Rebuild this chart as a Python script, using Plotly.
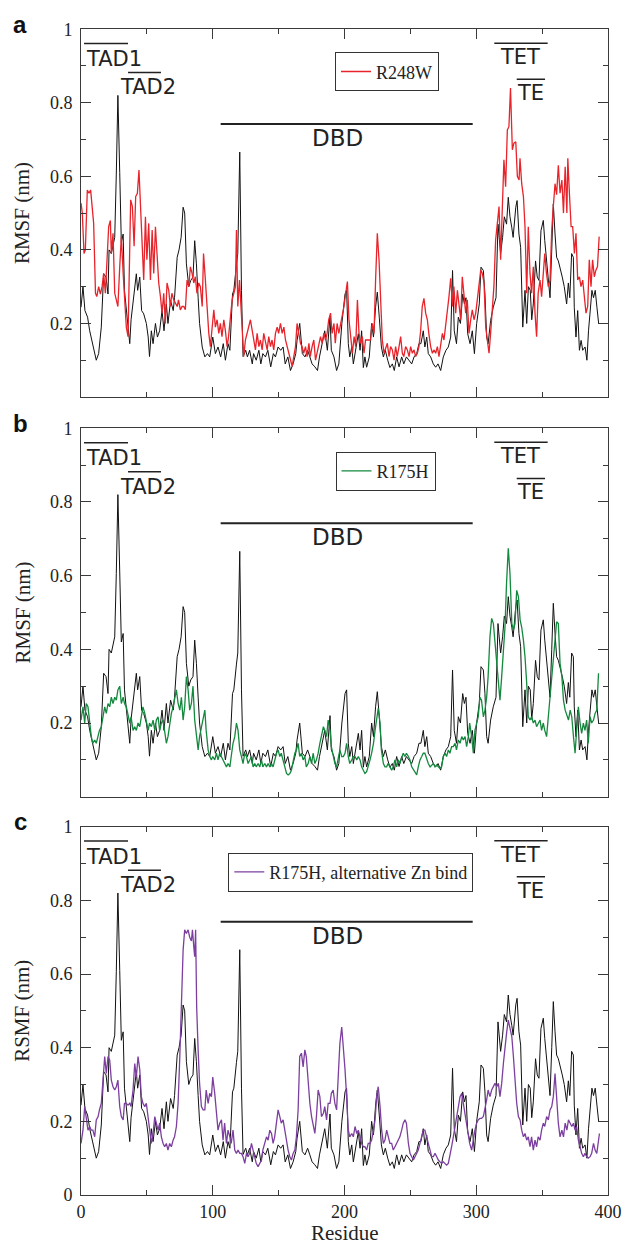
import plotly.graph_objects as go

# ---------------- data ----------------
wt_res = [0,1.5,3,5,6.6,9,11.6,13.4,15.4,17.2,19,20.5,21.3,23,24.3,25.6,26.8,28,29.4,30.6,32,33,35,37,38,40,42,43,44.6,46,47.6,49.6,51,52,53.4,54.7,56.5,58,59.7,61.5,63,64.8,66,68,70,71,73,74.4,76,77.5,78.7,80,81.8,83.3,85,86.3,87.6,88.9,90,92,94,96,97.7,100,102,104,106,108,109.6,111.6,113,115,116,118,119,120.5,121.8,123,125,126.3,128,130,131,133,135,136.5,138,140,141.8,144,146,147.6,149.6,151.6,153.4,155,157,159,161,163,164,166,168,170,172,173.7,175.4,177.5,179.5,181,183,185,187,189,190,192,194,195.7,
          198,199.1,200.4,201.6,202.9,204,205.5,206.7,208,209.3,210.5,211.8,213,214.3,215.5,216.8,218.8,220.6,222,223.6,224.9,226.4,228,229.5,231,232.8,234.5,236.3,237.8,239.6,241.4,243.4,245,247,249,251,252.8,254.8,256.5,258,259.8,261,262.4,263.6,265.4,267.4,269.2,271,273,275,277,278.8,280.6,282,283.3,285,286.4,288,289.7,291,292.2,293.5,295.3,297,298.6,300.3,302.3,303.6,305.4,306.6,307.9,309,310.9,312.9,315,316.5,318.5,320,321.3,323,324.3,325.6,327,328,330,331,332.4,333.7,335.3,337,338.3,339.6,341,342.1,343.3,345,346.3,347.6,349.1,350.9,352,353.4,354.7,356,357.3,358.5,359.8,361,362.3,363.6,365.3,366.8,368.6,369.9,371,372.4,373.7,374.4,375.7,377,378.3,379.6,380.8,382.6,384,385.2,386.5,387.8,389,390.3,391.6,392.9]
wt_rmsf = [0.244,0.30,0.235,0.217,0.18,0.145,0.10,0.118,0.19,0.335,0.326,0.28,0.40,0.39,0.416,0.434,0.606,0.82,0.61,0.42,0.443,0.29,0.217,0.145,0.21,0.27,0.335,0.29,0.326,0.235,0.226,0.20,0.163,0.11,0.18,0.145,0.20,0.163,0.18,0.235,0.18,0.253,0.20,0.262,0.235,0.27,0.38,0.40,0.434,0.516,0.50,0.362,0.30,0.317,0.326,0.425,0.362,0.27,0.20,0.136,0.109,0.118,0.109,0.163,0.118,0.136,0.109,0.145,0.10,0.145,0.127,0.28,0.29,0.36,0.39,0.666,0.29,0.11,0.127,0.109,0.127,0.09,0.118,0.10,0.127,0.09,0.118,0.109,0.127,0.082,0.118,0.109,0.136,0.127,0.136,0.09,0.109,0.072,0.09,0.118,0.154,0.20,0.118,0.109,0.127,0.109,0.09,0.082,0.072,0.109,0.145,0.18,0.127,0.22,0.127,0.109,0.072,0.09,
           0.20,0.235,0.28,0.29,0.145,0.109,0.136,0.09,0.118,0.145,0.172,0.127,0.18,0.08,0.109,0.081,0.109,0.20,0.163,0.244,0.285,0.217,0.136,0.109,0.127,0.10,0.08,0.09,0.072,0.109,0.082,0.109,0.09,0.109,0.10,0.09,0.109,0.118,0.145,0.145,0.18,0.136,0.163,0.118,0.109,0.09,0.081,0.09,0.072,0.109,0.127,0.136,0.163,0.344,0.18,0.145,0.217,0.20,0.28,0.253,0.27,0.172,0.145,0.18,0.118,0.20,0.253,0.353,0.344,0.28,0.163,0.145,0.208,0.244,0.27,0.47,0.39,0.434,0.49,0.47,0.543,0.49,0.46,0.434,0.516,0.534,0.443,0.407,0.19,0.29,0.20,0.30,0.29,0.21,0.253,0.37,0.326,0.317,0.452,0.48,0.425,0.362,0.326,0.27,0.40,0.525,0.443,0.38,0.37,0.353,0.326,0.30,0.253,0.31,0.27,0.39,0.38,0.244,0.163,0.235,0.127,0.154,0.127,0.136,0.10,0.18,0.235,0.29,0.27,0.29,0.244,0.20]

r248w_res = [0,1,2.3,3.3,4.8,6,7.3,8.6,9.6,11,12,13.4,14.7,16,17.2,18.5,19.7,21,22.3,23,24.3,25.6,26.8,28,29.4,30.6,32,33,34.4,35.7,37,37.7,39,40.3,41.5,42.8,44,45.3,46.3,47.6,48.9,50,51.4,52.7,54,55.2,56.5,57.7,59,60.3,61.5,62.8,64,65.3,66.6,67.8,69,70.4,71.6,73,74,75.4,76.7,78,79.2,80.5,81.8,83,84.3,85.6,86.8,88,89.4,90.6,92,93,94.4,95.7,97,98.2,99.5,100.8,102,103.3,104.6,105.8,107,108.4,109.6,110.9,112,113.4,114.7,116,117.2,118,119,120.3,121.3,122.3,123.5,124.8,126,127.3,128.6,130,131,132.4,133.7,135,136.2,137.5,138.7,140,141.3,142.5,143.8,145,146.3,147.6,148.9,150,151.4,152.7,154,155.2,156.5,157.7,159,160.3,161.5,162.8,164,165.3,166.6,167.8,169,170.4,171.6,173,174,175.4,176.7,178,179.2,180.5,181.8,183,184.3,185.6,186.8,188,189.4,190.6,192,193,194.4,195.7,
             197.9,199.6,200.9,202.2,203.4,204.7,206,207.3,208.5,209.8,211,212.3,213.5,214.8,216,217.3,218.6,219.8,221,222.4,223.6,224.9,226.2,227.5,228.7,230,231.3,232.5,233.8,235,236.3,237.6,238.8,240,241.4,242.6,243.9,245,246.4,247.7,249,250.2,251.5,252.8,254,255.3,256.5,257.8,259,260.3,261.6,262.9,264,265.4,266.7,268,269.2,270.5,271.7,273,274.3,275.5,276.8,278,279.3,280.6,282,283,284.4,285.7,287,288.2,289.4,290.7,292,293.2,294.5,295.8,297,298.3,299.6,300.8,302,303.4,304.6,305.9,307.2,308.4,309.7,310.9,312,313.4,314.7,316,317.3,318.5,319.8,321,322.3,323.6,324.8,326,327.4,328.6,330,331.2,332.5,333.2,334.5,335.8,337,338.3,339.5,340.8,342,343.3,344.6,345.8,347,348.4,349.6,350.9,352,353.3,354.7,356,357.3,358.5,359.8,361,362.3,363.6,365,366.2,367.5,368.8,369.5,370.7,372,373.2,374.5,375.7,377,378.3,379.5,380.8,382,383.3,384.6,385.8,387.1,388.3,389.6,390.8,392,393.3]
r248w_rmsf = [0.527,0.50,0.39,0.40,0.563,0.554,0.563,0.518,0.472,0.282,0.273,0.30,0.28,0.30,0.336,0.282,0.354,0.463,0.48,0.39,0.445,0.282,0.264,0.246,0.354,0.436,0.336,0.273,0.19,0.164,0.39,0.536,0.518,0.41,0.545,0.554,0.617,0.50,0.40,0.318,0.49,0.373,0.472,0.318,0.454,0.336,0.463,0.373,0.31,0.273,0.228,0.282,0.20,0.31,0.29,0.246,0.282,0.264,0.255,0.246,0.264,0.237,0.246,0.246,0.237,0.318,0.30,0.354,0.336,0.31,0.327,0.282,0.31,0.30,0.246,0.39,0.318,0.228,0.173,0.137,0.19,0.237,0.19,0.21,0.173,0.20,0.164,0.21,0.18,0.137,0.164,0.21,0.264,0.282,0.30,0.454,0.246,0.318,0.246,0.164,0.11,0.155,0.173,0.19,0.21,0.18,0.155,0.128,0.173,0.137,0.155,0.128,0.173,0.146,0.128,0.164,0.137,0.155,0.128,0.173,0.19,0.173,0.20,0.173,0.19,0.155,0.137,0.119,0.10,0.083,0.11,0.137,0.20,0.173,0.146,0.137,0.119,0.137,0.11,0.146,0.11,0.137,0.155,0.10,0.119,0.146,0.164,0.146,0.173,0.155,0.173,0.21,0.228,0.173,0.20,0.146,0.20,0.173,
              0.21,0.246,0.282,0.314,0.21,0.155,0.119,0.164,0.137,0.264,0.173,0.146,0.164,0.119,0.155,0.155,0.155,0.155,0.20,0.173,0.318,0.445,0.373,0.246,0.155,0.119,0.137,0.146,0.11,0.137,0.128,0.10,0.137,0.11,0.137,0.164,0.119,0.11,0.137,0.128,0.11,0.137,0.119,0.128,0.11,0.119,0.137,0.18,0.246,0.268,0.228,0.21,0.173,0.137,0.119,0.128,0.119,0.137,0.11,0.146,0.173,0.155,0.19,0.228,0.273,0.323,0.246,0.30,0.228,0.29,0.246,0.21,0.327,0.282,0.228,0.264,0.173,0.21,0.237,0.21,0.228,0.264,0.30,0.345,0.336,0.31,0.19,0.146,0.119,0.173,0.228,0.30,0.427,0.48,0.518,0.373,0.50,0.645,0.572,0.726,0.735,0.84,0.672,0.69,0.694,0.60,0.59,0.649,0.58,0.545,0.463,0.282,0.463,0.336,0.282,0.354,0.228,0.164,0.282,0.318,0.273,0.354,0.39,0.336,0.30,0.318,0.454,0.518,0.58,0.55,0.63,0.554,0.59,0.50,0.626,0.50,0.649,0.554,0.463,0.463,0.39,0.445,0.318,0.327,0.30,0.318,0.273,0.228,0.246,0.373,0.30,0.373,0.327,0.345,0.354,0.436]

r175h_res = [0,1.5,2.8,4,5.3,6.6,7.8,9,10.4,11.6,13,14,15.4,16.7,18,19.2,20.5,21.8,23,24.3,25.6,26.8,28,29.4,30.6,32,33,34.4,35.7,37,38,39.5,40.8,42,43.3,44.6,45.8,47,48.4,49.6,51,52,53.4,54.7,56,57.2,58.5,59.7,61,62.3,63.5,64.8,66,67.3,68.6,69.9,71,72.4,73.7,75,76.2,77.5,78.7,80,81.3,82.5,83.8,85,86.3,87.6,88.9,90,91.4,92.7,94,95,96.5,97.7,99,100,101.5,102.8,104,105.3,106.6,107.8,109,110.4,111.6,113,114,115.4,116.7,118,119.2,120.5,121.8,123,124.3,125.6,126.8,128,129.4,130.6,131.9,133,134.4,135.7,137,138,139.5,140.8,142,143.3,144.6,145.8,147,148.4,149.6,150.9,152,153.4,154.7,156,157.2,158.5,159.7,161,162.3,163.5,164.8,166,167.3,168.6,169.9,171,172.4,173.7,175,176.2,177.5,178.7,180,181.3,182.5,184,185,186.4,187.6,189,190,191.4,192.7,194,195.2,196.5,
             197.9,199.1,200.4,201.6,202.9,204,205.5,206.7,208,209.3,210.5,211.8,213,214.3,215.5,216.8,218,219.4,220.6,222,223.2,224.4,225.6,227,228,229.5,230.7,232,233,234.5,235.8,237,238.3,239.6,240.8,242,243.4,244.6,245.9,247,248.5,249.7,251,252.3,253.5,254.8,256,257.3,258.6,259.8,261,262.4,263.6,265,266.2,267.4,268.7,270,271.2,272.5,273.7,275,276.3,277.5,278.8,280,281.3,282.6,283.9,285,286.4,287.7,289,290.2,291.5,292.7,294,295,296.5,297.8,299,300.3,301.5,302.8,304,305.4,306.6,307.9,309,310.4,311.7,313,314.2,315.5,316.8,318,319.3,320.6,321.8,323,324.3,325.6,327,328.2,329.4,330.7,332,333.3,334.5,335.8,337,338.3,339.5,340.8,342,343.3,344.6,345.8,347,348.4,349.6,350.9,352,353.4,354.7,356,357.3,358.5,359.8,361,362.3,363.6,365,366.2,367.5,368.8,370,371.3,372.5,373.8,375,376.2,377.5,378.8,380,381.3,382.5,383.8,385,386.4,387.6,389,390.2,391.5,392.8]
r175h_rmsf = [0.208,0.244,0.20,0.253,0.244,0.19,0.163,0.145,0.154,0.145,0.163,0.18,0.19,0.217,0.244,0.226,0.253,0.244,0.27,0.253,0.27,0.262,0.29,0.30,0.253,0.27,0.253,0.244,0.217,0.20,0.217,0.18,0.19,0.18,0.20,0.19,0.217,0.244,0.226,0.208,0.18,0.20,0.19,0.208,0.18,0.208,0.217,0.18,0.20,0.208,0.172,0.145,0.163,0.20,0.226,0.244,0.27,0.29,0.253,0.235,0.27,0.208,0.244,0.326,0.29,0.235,0.253,0.30,0.208,0.163,0.127,0.163,0.19,0.217,0.235,0.18,0.127,0.109,0.10,0.109,0.10,0.118,0.10,0.118,0.109,0.10,0.09,0.081,0.09,0.081,0.109,0.145,0.163,0.20,0.18,0.127,0.109,0.09,0.118,0.109,0.09,0.10,0.109,0.081,0.09,0.081,0.09,0.081,0.10,0.081,0.09,0.081,0.09,0.081,0.09,0.081,0.10,0.118,0.127,0.109,0.118,0.10,0.081,0.063,0.059,0.063,0.072,0.10,0.118,0.127,0.145,0.109,0.118,0.10,0.109,0.081,0.09,0.109,0.09,0.118,0.09,0.10,0.118,0.145,0.163,0.19,0.18,0.163,0.208,0.18,0.136,0.109,0.09,0.081,0.109,0.127,
              0.109,0.109,0.118,0.145,0.109,0.09,0.10,0.109,0.109,0.10,0.109,0.10,0.081,0.072,0.063,0.068,0.081,0.10,0.118,0.145,0.18,0.217,0.24,0.20,0.127,0.09,0.081,0.081,0.09,0.081,0.072,0.081,0.10,0.081,0.10,0.09,0.109,0.118,0.109,0.118,0.109,0.10,0.081,0.072,0.068,0.059,0.081,0.10,0.109,0.118,0.118,0.10,0.09,0.081,0.086,0.09,0.081,0.086,0.081,0.077,0.081,0.109,0.118,0.109,0.127,0.118,0.136,0.136,0.145,0.127,0.154,0.145,0.163,0.154,0.163,0.136,0.163,0.20,0.163,0.118,0.18,0.20,0.217,0.27,0.262,0.217,0.235,0.27,0.326,0.434,0.484,0.47,0.425,0.362,0.326,0.262,0.326,0.40,0.46,0.58,0.674,0.606,0.47,0.452,0.47,0.56,0.543,0.48,0.46,0.425,0.38,0.308,0.217,0.208,0.217,0.20,0.208,0.19,0.20,0.208,0.18,0.20,0.18,0.163,0.217,0.27,0.317,0.362,0.416,0.475,0.47,0.362,0.326,0.262,0.235,0.217,0.208,0.235,0.217,0.163,0.118,0.18,0.244,0.20,0.172,0.20,0.18,0.208,0.145,0.217,0.20,0.208,0.226,0.235,0.335]

zn_res = [0,1.5,2.8,4,5.3,6.6,7.8,9,10.4,11.6,13,14,15.4,16.7,18,19.2,20.5,21.8,23,24.3,25.6,26.8,28,29.4,30.6,32,33,34.4,35.7,37,38,39.5,40.8,42,43.3,44.6,45.8,47,48.4,49.6,51,52,53.4,54.7,56,57.2,58.5,59.7,61,62.3,63.5,64.8,66,67.3,68.6,69.9,71,72.4,73.7,75,76.2,77.5,78.7,80,81.3,82.5,83.8,84.6,85.6,86.3,87,87.8,88.9,90,91.4,92.7,94,95,96.5,97.7,99,100,101.5,102.8,104,105.3,106.6,107.8,109,110.4,111.6,113,114,115.4,116.7,118,119.2,120.5,121.8,123,124.3,125.6,126.8,128,129.4,130.6,131.9,133,134.4,135.7,137,138,139.5,140.8,142,143.3,144.6,145.8,147,148.4,149.6,150.9,152,153.4,154.7,156,157.2,158.5,159.7,161,162.3,163.5,164.8,166,167.3,168.6,169.9,171,172.4,173.7,175,176.2,177.5,178.7,180,181.3,182.5,184,185,186.4,187.6,189,190,191.4,192.7,194,195.2,196.5,
          197.9,199.1,200.4,201.6,202.9,204,205.5,206.7,208,209.3,210.5,211.8,213,214.3,215.5,216.8,218,219.4,220.6,222,223.2,224.4,225.6,227,228.2,229.5,230.7,232,233.2,234.5,235.8,237,238.3,239.6,240.8,242,243.4,244.6,245.9,247,248.5,249.7,251,252.3,253.5,254.8,256,257.3,258.6,259.8,261,262.4,263.6,265,266.2,267.4,268.7,270,271.2,272.5,273.7,275,276.3,277.5,278.8,280,281.3,282.6,283.9,285,286.4,287.7,289,290.2,291.5,292.7,294,295,296.5,297.8,299,300.3,301.5,302.8,304,305.4,306.6,307.9,309,310.4,311.7,313,314.2,315.5,316.8,318,319.3,320.6,321.8,323,324.3,325.6,327,328.2,329.4,330.7,332,333.3,334.5,335.8,337,338.3,339.5,340.8,342,343.3,344.6,345.8,347,348.4,349.6,350.9,352,353.4,354.7,356,357.3,358.5,359.8,361,362.3,363.6,365,366.2,367.5,368.8,370,371.3,372.5,373.8,375,376.2,377.5,378.8,380,381.3,382.5,383.8,385,386.4,387.6,389,390.2,391.5,392.8,393.5]
zn_rmsf = [0.14,0.176,0.24,0.213,0.176,0.186,0.176,0.176,0.158,0.204,0.213,0.231,0.249,0.312,0.376,0.33,0.376,0.366,0.312,0.294,0.285,0.294,0.312,0.24,0.213,0.204,0.249,0.249,0.244,0.249,0.24,0.285,0.357,0.32,0.376,0.34,0.267,0.249,0.24,0.249,0.213,0.176,0.14,0.167,0.213,0.195,0.176,0.195,0.158,0.14,0.131,0.14,0.122,0.14,0.131,0.149,0.158,0.186,0.249,0.376,0.538,0.665,0.72,0.71,0.72,0.70,0.69,0.72,0.674,0.647,0.72,0.51,0.394,0.303,0.24,0.231,0.231,0.285,0.249,0.276,0.267,0.32,0.276,0.231,0.176,0.195,0.204,0.149,0.195,0.14,0.176,0.158,0.14,0.176,0.122,0.113,0.122,0.113,0.113,0.104,0.086,0.113,0.104,0.113,0.14,0.122,0.104,0.086,0.077,0.086,0.095,0.122,0.14,0.158,0.149,0.176,0.167,0.14,0.158,0.208,0.231,0.213,0.195,0.204,0.176,0.14,0.122,0.104,0.095,0.113,0.122,0.158,0.231,0.376,0.385,0.348,0.394,0.376,0.303,0.249,0.213,0.186,0.167,0.213,0.285,0.267,0.213,0.222,0.24,0.204,0.249,0.249,0.276,0.285,0.249,0.231,0.303,0.412,
           0.456,0.403,0.34,0.267,0.176,0.158,0.167,0.158,0.186,0.167,0.176,0.158,0.14,0.131,0.131,0.122,0.14,0.14,0.149,0.176,0.204,0.267,0.294,0.24,0.176,0.14,0.149,0.176,0.158,0.14,0.14,0.122,0.131,0.14,0.149,0.158,0.176,0.195,0.204,0.195,0.14,0.113,0.104,0.095,0.104,0.113,0.122,0.14,0.158,0.176,0.176,0.158,0.14,0.122,0.104,0.104,0.113,0.104,0.095,0.09,0.086,0.09,0.086,0.081,0.086,0.104,0.131,0.158,0.186,0.213,0.24,0.267,0.276,0.249,0.222,0.195,0.158,0.14,0.122,0.158,0.176,0.195,0.204,0.208,0.208,0.213,0.231,0.258,0.285,0.267,0.285,0.294,0.303,0.294,0.303,0.267,0.303,0.357,0.403,0.439,0.475,0.448,0.43,0.376,0.303,0.249,0.213,0.204,0.176,0.158,0.167,0.149,0.158,0.131,0.158,0.122,0.149,0.131,0.158,0.149,0.176,0.195,0.186,0.213,0.204,0.231,0.24,0.267,0.33,0.249,0.195,0.158,0.176,0.158,0.195,0.176,0.204,0.195,0.186,0.195,0.176,0.186,0.149,0.131,0.113,0.104,0.113,0.104,0.10,0.104,0.113,0.14,0.122,0.113,0.158,0.167]

panel_letters = ["a", "b", "c"]
mutant_names = ["R248W", "R175H", "R175H, alternative Zn bind"]
y_titles = ["RMSF (nm)", "RMSF (nm)", "RSMF (nm)"]
mutant_colors = ["#e8232a", "#13893e", "#7c3f9f"]
y_tick_vals = [0, 0.2, 0.4, 0.6, 0.8, 1]
y_tick_text = ["0", "0.2", "0.4", "0.6", "0.8", "1"]
x_tick_vals = [0, 100, 200, 300, 400]
x_tick_text = ["0", "100", "200", "300", "400"]

# domain labels: (text, x, y, size, anchor)
domain_labels = [("TAD1", 2.3, 0.919, 21, "left"), ("TAD2", 28.0, 0.842, 21, "left"),
                 ("DBD", 195.0, 0.704, 23, "center"), ("TET", 333.0, 0.924, 21, "center"),
                 ("TE", 341.4, 0.826, 21, "center")]
# bars: (x0, x1, y, width)
domain_bars = [(2.3, 35.7, 0.961, 1.5), (35.7, 60.7, 0.882, 1.5), (106.0, 297.3, 0.742, 2),
               (313.7, 354.2, 0.962, 1.5), (330.7, 352.2, 0.864, 1.5)]

mutant_res = [r248w_res, r175h_res, zn_res]
mutant_vals = [r248w_rmsf, r175h_rmsf, zn_rmsf]

# ---------------- layout geometry ----------------
W, H = 625, 1245
x_dom = [81 / W, 608 / W]
panel_px = [(29.2, 397.0), (428.3, 796.7), (826.7, 1195.0)]
legend_pos = [(335 / W, 1 - 52.3 / H), (335.5 / W, 1 - 451.7 / H), (228.3 / W, 1 - 852.7 / H)]

fig = go.Figure()
serif = "Liberation Serif"
sans = "DejaVu Sans"
axis_col = "#3a3a3a"
text_col = "#222222"

annotations = []
shapes = []

for i in range(3):
    sfx = "" if i == 0 else str(i + 1)
    xa, ya = "x" + sfx, "y" + sfx
    leg = "legend" if i == 0 else "legend" + str(i + 1)
    fig.add_trace(go.Scatter(x=wt_res, y=wt_rmsf, mode="lines", xaxis=xa, yaxis=ya,
                             line=dict(color="#111111", width=1), showlegend=False,
                             hoverinfo="skip"))
    fig.add_trace(go.Scatter(x=mutant_res[i], y=mutant_vals[i], mode="lines", xaxis=xa, yaxis=ya,
                             name=mutant_names[i], legend=leg,
                             line=dict(color=mutant_colors[i], width=1.3)))
    top, bot = panel_px[i]
    ydom = [1 - bot / H, 1 - top / H]
    last = (i == 2)
    if last:
        ytv, ytt = y_tick_vals, y_tick_text
    else:
        ytv, ytt = y_tick_vals[1:], y_tick_text[1:]
    xax = dict(domain=x_dom, range=[0, 400], anchor=ya, showline=True, linecolor=axis_col,
               linewidth=1, mirror="ticks", ticks="inside", ticklen=10, tickcolor=axis_col,
               tickmode="array", tickvals=x_tick_vals, ticktext=x_tick_text,
               showticklabels=last, showgrid=False, zeroline=False, automargin=False,
               tickfont=dict(family=serif, size=18, color=text_col),
               minor=dict(ticks="inside", ticklen=5, tickcolor=axis_col, tick0=0, dtick=50,
                          showgrid=False))
    yax = dict(domain=ydom, range=[0, 1], anchor=xa, showline=True, linecolor=axis_col,
               linewidth=1, mirror="ticks", ticks="inside", ticklen=10, tickcolor=axis_col,
               tickmode="array", tickvals=ytv, ticktext=ytt, showgrid=False, zeroline=False,
               automargin=False,
               tickfont=dict(family=serif, size=18, color=text_col), ticklabelstandoff=4,
               minor=dict(ticks="inside", ticklen=5, tickcolor=axis_col, tick0=0, dtick=0.1,
                          showgrid=False))
    fig.update_layout(**{"xaxis" + sfx: xax, "yaxis" + sfx: yax})
    lx, ly = legend_pos[i]
    fig.update_layout(**{leg: dict(x=lx, y=ly, xanchor="left", yanchor="top",
                                   bordercolor="#333333", borderwidth=1, bgcolor="white",
                                   font=dict(family=serif, size=18, color=text_col),
                                   itemwidth=30, tracegroupgap=0)})

    for (txt, tx, ty, sz, anc) in domain_labels:
        annotations.append(dict(text=txt, x=tx, y=ty, xref=xa, yref=ya, showarrow=False,
                                xanchor=anc, yanchor="middle",
                                font=dict(family=sans, size=sz, color=text_col)))
    for (x0, x1, yy, lw) in domain_bars:
        shapes.append(dict(type="line", x0=x0, x1=x1, y0=yy, y1=yy, xref=xa, yref=ya,
                           line=dict(color=text_col, width=lw)))
    # panel letter
    annotations.append(dict(text="<b>" + panel_letters[i] + "</b>", x=20 / W, y=1 - (top - 5) / H,
                            xref="paper", yref="paper", showarrow=False, xanchor="center",
                            yanchor="middle", font=dict(family="Liberation Sans", size=24,
                                                        color="#111111")))
    # y title
    annotations.append(dict(text=y_titles[i], x=22 / W, y=1 - (top + bot) / 2 / H,
                            xref="paper", yref="paper", showarrow=False, textangle=-90,
                            xanchor="center", yanchor="middle",
                            font=dict(family=serif, size=21, color=text_col)))

annotations.append(dict(text="Residue", x=344.5 / W, y=1 - 1233 / H, xref="paper", yref="paper",
                        showarrow=False, xanchor="center", yanchor="middle",
                        font=dict(family=serif, size=21, color=text_col)))

fig.update_layout(width=W, height=H, margin=dict(l=0, r=0, t=0, b=0, autoexpand=False),
                  paper_bgcolor="white", plot_bgcolor="white",
                  annotations=annotations, shapes=shapes)

fig.write_html("out.html", config={"displayModeBar": False},
               post_script="document.body.style.margin='0';document.body.style.overflow='hidden';")
